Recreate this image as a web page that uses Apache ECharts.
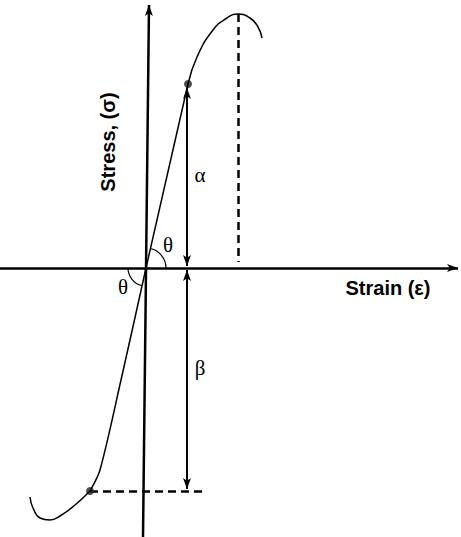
<!DOCTYPE html>
<html>
<head>
<meta charset="utf-8">
<script src="https://cdn.jsdelivr.net/npm/echarts@6/dist/echarts.min.js"></script>
<style>
html, body { margin: 0; padding: 0; background: #fff; }
#stressStrain { width: 461px; height: 537px; }
</style>
</head>
<body>
<div id="stressStrain"></div>
<script>
// diagram units: origin where the two axes cross, x = strain, y = stress
var upperLine = [[0, 0], [42, 184]]
var upperCurve = [[42, 184], [51, 211], [67, 238], [81, 250], [92, 254], [104, 250], [112, 241], [116, 230]]
var lowerLine = [[0, 0], [-25, -112], [-46, -202], [-56, -223]]
var lowerCurve = [[-56, -223], [-71, -237], [-86, -248], [-96, -252], [-106, -250], [-113, -240], [-116, -229]]
var markedPoints = [[42, 184], [-56, -223]]
var axisLines = [[[-146, 0], [312, 0]], [[-3, -269], [3, 263]]]
var alphaArrow = [[41, 2], [41, 180]]
var betaArrow = [[41, -2], [41, -221]]
var dashedLines = [[[92, 254], [92, 6]], [[-56, -223], [59, -223]]]
var axisNames = [
    { text: 'Stress, (σ)', pos: [-38, 126], rotate: 90 },
    { text: 'Strain (ε)', pos: [242, -20], rotate: 0 }
]
var greekLabels = [
    { text: 'α', pos: [54, 93] },
    { text: 'β', pos: [54, -100] },
    { text: 'θ', pos: [22, 23] },
    { text: 'θ', pos: [-23, -19] }
]
// angle arcs: from the strain axis to the first segment of the curve
var angleArcs = [
    { from: [1, 0], to: upperLine[1], r: 20 },
    { from: [-1, 0], to: lowerLine[1], r: 18 }
]

var chart = echarts.init(document.getElementById('stressStrain'), null, { renderer: 'svg' })

function screenAngle(api, p) {
    var o = api.coord([0, 0])
    var q = api.coord(p)
    return Math.atan2(q[1] - o[1], q[0] - o[0])
}

var arrowHead = [6, 11]

var option = {
    animation: false,
    backgroundColor: '#fff',
    grid: { left: 0, right: 0, top: 0, bottom: 0 },
    xAxis: { type: 'value', min: -146, max: 315, show: false },
    yAxis: { type: 'value', min: -269, max: 268, show: false },
    series: [
        {
            type: 'lines',
            coordinateSystem: 'cartesian2d',
            symbol: ['none', 'arrow'],
            symbolSize: [arrowHead, arrowHead],
            lineStyle: { color: '#000', width: 2.5, opacity: 1 },
            data: axisLines.map(function (c) { return { coords: c } })
        },
        {
            type: 'lines',
            coordinateSystem: 'cartesian2d',
            symbol: ['arrow', 'arrow'],
            symbolSize: [arrowHead, arrowHead],
            lineStyle: { color: '#000', width: 2, opacity: 1 },
            data: [{ coords: alphaArrow }, { coords: betaArrow }]
        },
        {
            type: 'lines',
            coordinateSystem: 'cartesian2d',
            symbol: 'none',
            lineStyle: { color: '#000', width: 2.5, type: [8, 5], opacity: 1 },
            data: dashedLines.map(function (c) { return { coords: c } })
        },
        {
            type: 'line', data: upperLine, showSymbol: false,
            lineStyle: { color: '#000', width: 1.5 }
        },
        {
            type: 'line', data: upperCurve, showSymbol: false, smooth: true,
            lineStyle: { color: '#000', width: 1.5 }
        },
        {
            type: 'line', data: lowerLine, showSymbol: false, smooth: 0.3,
            lineStyle: { color: '#000', width: 1.5 }
        },
        {
            type: 'line', data: lowerCurve, showSymbol: false, smooth: true,
            lineStyle: { color: '#000', width: 1.5 }
        },
        {
            type: 'scatter', data: markedPoints, symbolSize: 8,
            itemStyle: { color: '#222' }
        },
        {
            type: 'custom',
            data: angleArcs.map(function () { return [0, 0] }),
            renderItem: function (params, api) {
                var a = angleArcs[params.dataIndex]
                var o = api.coord([0, 0])
                var s = screenAngle(api, a.from)
                var e = screenAngle(api, a.to)
                if (s < 0) s += Math.PI * 2
                if (e < 0) e += Math.PI * 2
                var start = Math.min(s, e), end = Math.max(s, e)
                if (end - start > Math.PI) { var t = start; start = end; end = t + Math.PI * 2 }
                return {
                    type: 'arc',
                    shape: { cx: o[0], cy: o[1], r: a.r, startAngle: start, endAngle: end, clockwise: true },
                    style: { stroke: '#000', lineWidth: 1.2, fill: null }
                }
            }
        },
        {
            type: 'custom',
            data: axisNames.map(function (d) { return d.pos }),
            renderItem: function (params, api) {
                var d = axisNames[params.dataIndex]
                var p = api.coord(d.pos)
                return {
                    type: 'text', x: p[0], y: p[1], rotation: d.rotate * Math.PI / 180,
                    style: {
                        text: d.text, fill: '#000', align: 'center', verticalAlign: 'middle',
                        font: 'bold 20px "Liberation Sans", Arial, sans-serif'
                    }
                }
            }
        },
        {
            type: 'custom',
            data: greekLabels.map(function (d) { return d.pos }),
            renderItem: function (params, api) {
                var d = greekLabels[params.dataIndex]
                var p = api.coord(d.pos)
                return {
                    type: 'text', x: p[0], y: p[1],
                    style: {
                        text: d.text, fill: '#000', align: 'center', verticalAlign: 'middle',
                        font: '21px "Liberation Serif", "DejaVu Serif", serif'
                    }
                }
            }
        }
    ]
}
chart.setOption(option)
window.onresize = function () {
    chart.resize()
}
</script>
</body>
</html>
